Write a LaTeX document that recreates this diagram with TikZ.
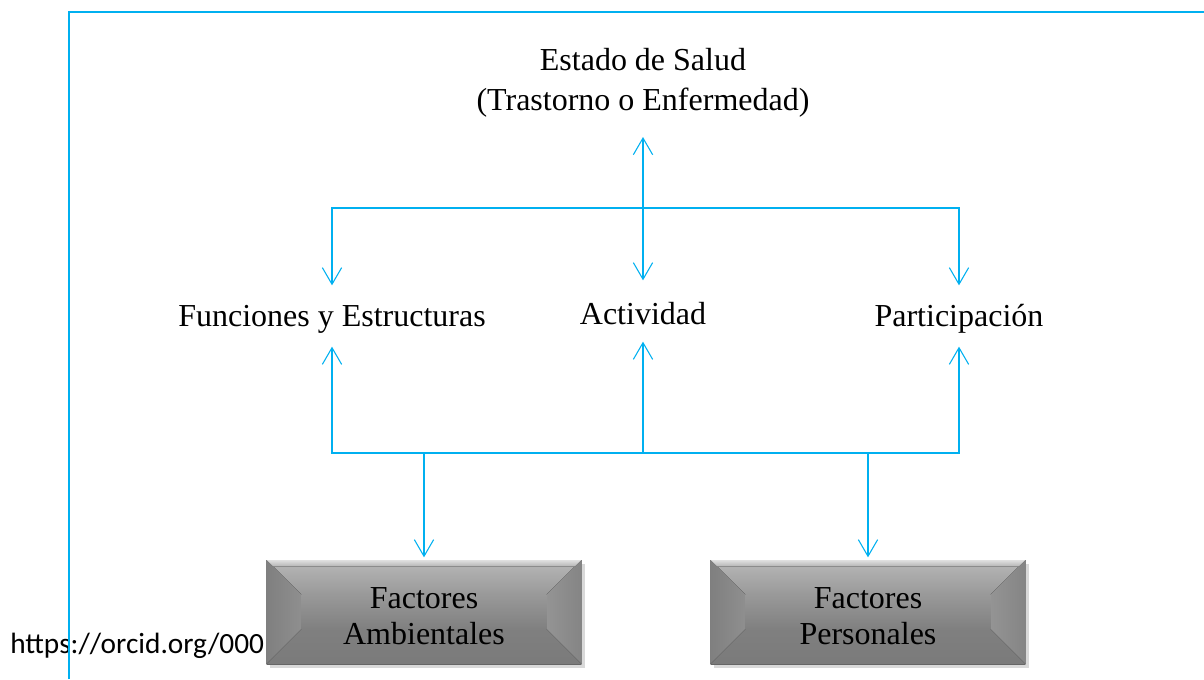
\documentclass[tikz,border=0pt]{standalone}
\usepackage{fontspec}
\setmainfont{Liberation Serif}
\newfontfamily\urlfont{Carlito}
\usetikzlibrary{arrows.meta,shadows,calc}
\definecolor{cy}{RGB}{0,176,240}
\tikzset{
  lbl/.style={font=\fontsize{24}{30}\selectfont, align=center, inner sep=0pt, outer sep=0pt},
  conn/.style={draw=cy, line width=0.8pt},
  tip/.style={-{Straight Barb[length=12.5pt,width=14.5pt,line width=0.8pt]}},
  bevelbox/.style={minimum width=236pt, minimum height=78pt, inner sep=0pt, outer sep=0pt,
    font=\fontsize{24}{27}\selectfont, align=center,
    top color=black!32, bottom color=black!55,
    drop shadow={opacity=0.3, shadow xshift=2.5pt, shadow yshift=-3pt},
    path picture={
      \coordinate (nw) at (path picture bounding box.north west);
      \coordinate (ne) at (path picture bounding box.north east);
      \coordinate (sw) at (path picture bounding box.south west);
      \coordinate (se) at (path picture bounding box.south east);
      \fill[top color=black!28, bottom color=black!40] (nw) -- (ne) -- ($(ne)+(-26pt,-26pt)$) -- ($(nw)+(26pt,-26pt)$) -- cycle;
      \fill[left color=black!50, right color=black!44] (nw) -- ($(nw)+(26pt,-26pt)$) -- ($(sw)+(26pt,26pt)$) -- (sw) -- cycle;
      \fill[left color=black!42, right color=black!48] (ne) -- ($(ne)+(-26pt,-26pt)$) -- ($(se)+(-26pt,26pt)$) -- (se) -- cycle;
      \fill[top color=black!50, bottom color=black!52] (sw) -- ($(sw)+(26pt,26pt)$) -- ($(se)+(-26pt,26pt)$) -- (se) -- cycle;
      \fill[top color=black!40, bottom color=black!50] ($(nw)+(26pt,-26pt)$) rectangle ($(se)+(-26pt,26pt)$);
      \fill[top color=black!12, bottom color=black!30] (nw) -- (ne) -- ($(ne)+(-5pt,-5pt)$) -- ($(nw)+(5pt,-5pt)$) -- cycle;
    }}
}
\begin{document}
\begin{tikzpicture}[x=0.75pt,y=-0.75pt]
\useasboundingbox (0,0) rectangle (1204,679);
% URL text
\node[font=\urlfont\fontsize{22}{26}\selectfont, anchor=west, inner sep=0pt] (url) at (10,646) {https://orcid.org/000};
% frame
\coordinate (fb) at (69,679);
\coordinate (fc) at (69,12);
\coordinate (fr) at (1204,12);
\draw[cy, line width=2.2pt] (fb) -- (fc) -- (fr);
% text nodes
\node[lbl, minimum height=81pt] (salud) at (643,83) {Estado de Salud\\(Trastorno o Enfermedad)};
\node[lbl, minimum height=46pt] (fun) at (332,316) {\rule{0pt}{21pt}Funciones y Estructuras};
\node[lbl, minimum height=46pt] (act) at (643,311) {\rule{0pt}{21pt}Actividad};
\node[lbl, minimum height=46pt] (part) at (959,316) {\rule{0pt}{21pt}Participación};
% boxes
\node[bevelbox] (amb) at (424,612) {\rule{0pt}{22pt}Factores\\Ambientales};
\node[bevelbox] (per) at (868,612) {\rule{0pt}{22pt}Factores\\Personales};
% junctions
\coordinate (ja) at (643,208);
\coordinate (jb) at (643,453);
% upper connectors
\draw[conn, {Straight Barb[length=12.5pt,width=14.5pt,line width=0.8pt]}-{Straight Barb[length=12.5pt,width=14.5pt,line width=0.8pt]}] (salud.south) -- (act.north);
\draw[conn, tip] (ja) -| (fun.north);
\draw[conn, tip] (ja) -| (part.north);
% lower connectors
\draw[conn, tip] (jb) -- (act.south);
\draw[conn, tip] (jb) -| (fun.south);
\draw[conn, tip] (jb) -| (part.south);
\draw[conn, tip, shorten >=2pt] (jb -| amb.north) -- (amb.north);
\draw[conn, tip, shorten >=2pt] (jb -| per.north) -- (per.north);
\end{tikzpicture}
\end{document}
